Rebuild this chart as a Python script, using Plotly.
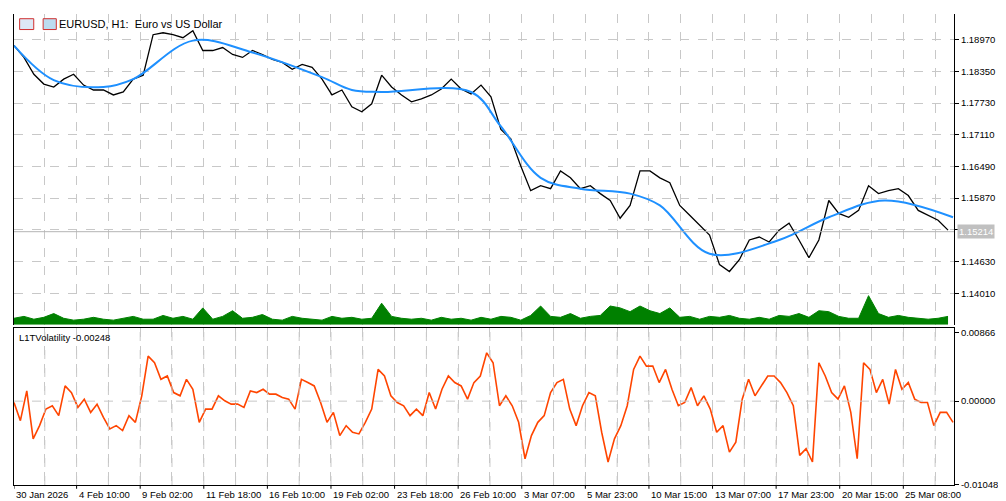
import plotly.graph_objects as go

price = [1.18854,1.18623,1.18294,1.18102,1.18044,1.18198,1.18294,1.18082,1.17986,1.17986,
 1.17889,1.17947,1.18198,1.18275,1.19067,1.19105,1.19067,1.19009,1.19144,1.18758,
 1.18758,1.18816,1.18680,1.18623,1.18758,1.18680,1.18584,1.18526,1.18391,1.18487,
 1.18430,1.18198,1.17889,1.17986,1.17658,1.17561,1.17716,1.18275,1.18044,1.17889,
 1.17754,1.17812,1.17889,1.18005,1.18198,1.18005,1.17909,1.18082,1.17851,1.17214,
 1.17030,1.16500,1.16017,1.16114,1.16056,1.16403,1.16268,1.16056,1.16114,1.15959,
 1.15824,1.15477,1.15728,1.16403,1.16403,1.16268,1.16172,1.15728,1.15535,1.15342,
 1.15149,1.14570,1.14435,1.14667,1.15052,1.15110,1.15013,1.15245,1.15381,1.15052,
 1.14705,1.15052,1.15824,1.15573,1.15496,1.15631,1.16114,1.15959,1.16017,1.16056,
 1.15921,1.15631,1.15535,1.15438,1.15245]
price_bar = list(range(0, 950, 10))

ma_bar = [0,40,90,120,180,240,310,340,370,460,490,530,570,620,650,700,770,820,876,945]
ma = [1.18854,1.18179,1.18044,1.18198,1.18951,1.18719,1.18237,1.17986,1.17947,1.17947,
 1.17272,1.16268,1.16056,1.15959,1.15728,1.14782,1.15052,1.15496,1.15824,1.15496]

volume = [7,9,6,8,12,7,5,6,8,6, 5,7,9,6,6,10,7,9,6,18, 6,9,15,7,8,11,6,5,9,7,
 6,5,9,7,8,6,7,23,9,7, 6,7,5,8,6,7,5,8,6,9, 8,5,10,20,9,8,12,7,9,10,
 20,18,14,20,15,12,18,8,9,6, 9,8,10,7,6,8,6,10,9,12, 8,15,14,9,7,7,31,12,8,10,
 8,7,6,7,9]

osc = [-0.00017,-0.00246,0.00129,-0.00475,-0.00309,-0.00100,-0.00058,-0.00183,0.00192,0.00108,
 -0.00079,0.00025,-0.00142,-0.00038,-0.00204,-0.00350,-0.00309,-0.00371,-0.00183,-0.00267,
 0.00067,0.00567,0.00484,0.00275,0.00317,0.00108,0.00067,0.00275,0.00150,-0.00267,
 -0.00100,-0.00100,0.00067,0.00004,-0.00038,-0.00038,-0.00079,0.00129,0.00108,0.00150,
 0.00088,0.00088,0.00046,0.00025,-0.00100,0.00275,0.00234,0.00192,-0.00017,-0.00267,
 -0.00142,-0.00434,-0.00309,-0.00392,-0.00413,-0.00267,-0.00100,0.00400,0.00317,0.00067,
 -0.00017,-0.00058,-0.00183,-0.00100,-0.00183,0.00108,-0.00100,0.00150,0.00317,0.00234,
 0.00192,0.00025,0.00234,0.00317,0.00609,0.00484,-0.00058,0.00067,-0.00058,-0.00267,
 -0.00726,-0.00434,-0.00267,-0.00183,0.00108,0.00234,0.00275,-0.00100,-0.00309,-0.00058,
 0.00108,0.00067,-0.00392,-0.00767,-0.00475,-0.00309,-0.00058,0.00400,0.00567,0.00442,
 0.00442,0.00234,0.00400,0.00150,-0.00058,-0.00017,0.00171,-0.00058,0.00067,-0.00100,
 -0.00392,-0.00309,-0.00642,-0.00517,0.00025,0.00275,0.00067,0.00192,0.00317,0.00317,
 0.00234,0.00108,-0.00058,-0.00684,-0.00600,-0.00767,0.00484,0.00317,0.00108,0.00025,
 0.00192,-0.00142,-0.00726,0.00484,0.00400,0.00108,0.00275,-0.00038,0.00400,0.00150,
 0.00234,0.00025,-0.00017,-0.00017,-0.00309,-0.00142,-0.00142,-0.00267]
n = len(osc)
osc_bar = [i * 945 / (n - 1) for i in range(n)]

date_labels = ["30 Jan 2026","4 Feb 10:00","9 Feb 02:00","11 Feb 18:00","16 Feb 10:00",
 "19 Feb 02:00","23 Feb 18:00","26 Feb 10:00","3 Mar 07:00","5 Mar 23:00","10 Mar 15:00",
 "13 Mar 07:00","17 Mar 23:00","20 Mar 15:00","25 Mar 08:00"]
label_bars = [-1] + [63 + 64 * k for k in range(14)]
price_ticks = [1.14010,1.14630,1.15250,1.15870,1.16490,1.17110,1.17730,1.18350,1.18970]
price_tick_text = ["1.14010","1.14630","","1.15870","1.16490","1.17110","1.17730","1.18350","1.18970"]
last_price = 1.15214
osc_ticks = [0.00866, 0.0, -0.01048]
osc_tick_text = ["0.00866","0.00000","-0.01048"]

font = "Liberation Sans"
fig = go.Figure()
fig.add_trace(go.Scatter(x=price_bar, y=volume, yaxis="y3", mode="lines",
    line=dict(color="#008000", width=1), fill="tozeroy", fillcolor="#008000"))
fig.add_trace(go.Scatter(x=price_bar, y=price, mode="lines", line=dict(color="black", width=1.3)))
fig.add_trace(go.Scatter(x=ma_bar, y=ma, mode="lines", line=dict(color="#1E90FF", width=2, shape="spline")))
fig.add_trace(go.Scatter(x=osc_bar, y=osc, yaxis="y2", mode="lines",
    line=dict(color="#FF4500", width=1.6)))

grid = dict(showgrid=True, gridcolor="#c8c8c8", griddash="dash", gridwidth=1)
fig.update_layout(
    width=1006, height=501, margin=dict(l=6, r=60, t=6, b=24),
    paper_bgcolor="white", plot_bgcolor="white", showlegend=False,
    font=dict(family=font, size=9.5, color="black"),
    xaxis=dict(range=[0, 946], tickvals=[31 + 32 * k for k in range(29)], showticklabels=False,
               ticks="", showline=True, linecolor="black", mirror=True, zeroline=False,
               anchor="y2", **grid),
    yaxis=dict(domain=[0.34, 1], range=[1.13392, 1.19472], side="right",
               tickvals=price_ticks, ticktext=price_tick_text, ticks="outside", ticklen=4,
               tickcolor="black", showline=True, linecolor="black", mirror=True,
               zeroline=False, **grid),
    yaxis3=dict(domain=[0.34, 1], range=[0, 330], overlaying="y", visible=False),
    yaxis2=dict(domain=[0, 0.333], range=[-0.01057, 0.00920], side="right",
                tickvals=osc_ticks, ticktext=osc_tick_text, ticks="outside", ticklen=4,
                tickcolor="black", showline=True, linecolor="black", mirror=True,
                zeroline=False, showgrid=False),
)
fig.add_shape(type="line", xref="x", yref="y2", x0=0, x1=946, y0=0, y1=0,
              line=dict(color="#c8c8c8", dash="dash", width=1))
fig.add_shape(type="line", xref="x", yref="y", x0=0, x1=946, y0=last_price, y1=last_price,
              line=dict(color="#b4b4b4", width=1))
for k in range(29):
    fig.add_shape(type="line", xref="x", yref="y2 domain", x0=31 + 32 * k, x1=31 + 32 * k, y0=0, y1=1,
                  line=dict(color="#c8c8c8", dash="dash", width=1))
fig.add_annotation(xref="paper", yref="y", x=1, xanchor="left", y=last_price, xshift=3,
                   text="1.15214", showarrow=False, bgcolor="#c0c0c0",
                   font=dict(color="white", size=9.5, family=font), borderpad=1)
for b, t in zip(label_bars, date_labels):
    fig.add_annotation(xref="x", yref="paper", x=max(b, 0), y=0, yanchor="top", xanchor="left",
                       yshift=-2, text=t, showarrow=False, font=dict(size=9.5, family=font))
    fig.add_shape(type="line", xref="x", yref="paper", x0=max(b, 0), x1=max(b, 0), y0=0, y1=-0.008,
                  line=dict(color="black", width=1))
fig.add_annotation(xref="paper", yref="paper", x=0.046, y=0.995, xanchor="left", yanchor="top",
                   text="EURUSD, H1:  Euro vs US Dollar", showarrow=False,
                   font=dict(size=11, family=font))
fig.add_annotation(xref="paper", yref="paper", x=0.003, y=0.33, xanchor="left", yanchor="top",
                   text="L1TVolatility -0.00248", showarrow=False, font=dict(size=9.5, family=font))
fig.add_shape(type="rect", xref="paper", yref="paper", x0=0.006, x1=0.021, y0=0.967, y1=0.99,
              line=dict(color="#d03030", width=1), fillcolor="#dde8f5")
fig.add_shape(type="rect", xref="paper", yref="paper", x0=0.031, x1=0.045, y0=0.967, y1=0.99,
              line=dict(color="#d03030", width=1), fillcolor="#bcdcf0")
fig.write_html("out.html")
